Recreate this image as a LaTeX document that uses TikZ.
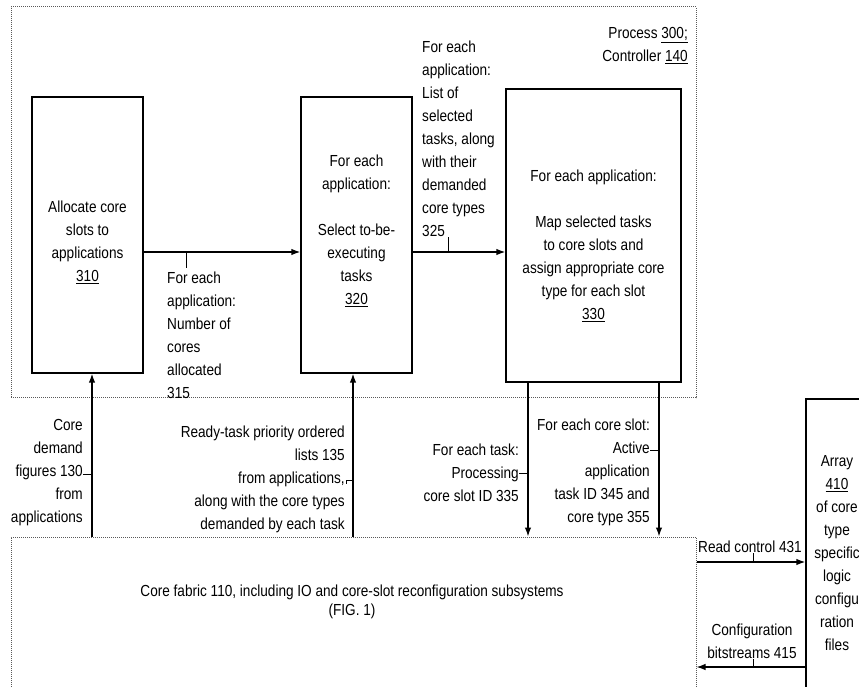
\documentclass[tikz,border=0pt]{standalone}
\usepackage{fontspec}
\setmainfont[FakeStretch=0.85]{Liberation Sans}
\usepackage{tikz}
\usetikzlibrary{positioning,arrows.meta,calc}

\begin{document}
\begin{tikzpicture}[
  x=1pt, y=1pt,
  every node/.style={font=\fontsize{16}{23}\selectfont},
  stepbox/.style={draw, line width=1.3pt, inner sep=0pt},
  steptext/.style={align=center, inner sep=0pt},
  grpbox/.style={draw=black!65, densely dotted, line width=1pt, inner sep=0pt},
  lbl/.style={align=left, inner sep=0pt},
  rlbl/.style={align=right, inner sep=0pt},
  arr/.style={-{Latex[length=9pt,width=6.5pt]}, line width=1.3pt},
  tick/.style={line width=0.8pt}
]
  \clip (0,0) rectangle (859,686);

  % --- Process 300 frame and its three steps ---
  \node[grpbox, minimum width=685, minimum height=391] (proc) at (353.5,483.5) {};
  \node[anchor=north east, rlbl] (proclbl) at (688,659)
    {Process \underline{300;}\\Controller \underline{140}};

  \node[stepbox, minimum width=111, minimum height=276] (alloc)  at (87.5,451)  {};
  \node[stepbox, minimum width=111, minimum height=276] (select) at (356.5,451) {};
  \node[stepbox, minimum width=175, minimum height=293] (map)    at (593.5,450.5) {};
  \node[steptext] (alloctxt)  at ([yshift=-7pt]alloc.center)
    {Allocate core\\slots to\\applications\\\underline{310}};
  \node[steptext] (selecttxt) at ([yshift=4pt]select.center)
    {For each\\application:\\[23pt]Select to-be-\\executing\\tasks\\\underline{320}};
  \node[steptext] (maptxt)    at ([yshift=-10pt]map.center)
    {For each application:\\[23pt]Map selected tasks\\to core slots and\\assign appropriate core\\type for each slot\\\underline{330}};

  % --- Core fabric and configuration file array ---
  \node[grpbox, minimum width=685, minimum height=189] (fabric) at (353.5,54.5) {};
  \node[align=center, inner sep=0pt, font=\fontsize{16}{19}\selectfont] (fabriclbl) at (352,84.5)
    {Core fabric 110, including IO and core-slot reconfiguration subsystems\\(FIG. 1)};
  \node[draw, line width=1.3pt, minimum width=74, minimum height=327, inner sep=0pt] (array) at (843,123.5) {};
  \node[align=center, inner sep=0pt] (arraylbl) at (837,132.5)
    {Array\\\underline{410}\\of core\\type\\specific\\logic\\configu\\ration\\files};

  % --- Arrows inside the process ---
  \draw[arr] ([yshift=-17pt]alloc.east)  -- ([yshift=-17pt]select.west);
  \draw[arr] ([yshift=-17pt]select.east) -- ([yshift=-16.5pt]map.west);

  \node[anchor=north west, lbl] (l315) at (167,414)
    {For each\\application:\\Number of\\cores\\allocated\\315};
  \draw[tick] ([xshift=19pt,yshift=4pt]l315.north west) -- ++(0,16);
  \node[anchor=north west, lbl] (l325) at (422,645)
    {For each\\application:\\List of\\selected\\tasks, along\\with their\\demanded\\core types\\325};
  \draw[tick] ([xshift=26pt]l325.south west) -- ++(0,-15);

  % --- Arrows between fabric and process ---
  \draw[arr] (fabric.north -| {$(alloc.south)+(4.5,0)$})  -- ([xshift=4.5pt]alloc.south);
  \draw[arr] (fabric.north -| {$(select.south)+(-3.5,0)$}) -- ([xshift=-3.5pt]select.south);
  \draw[arr] ([xshift=-65.5pt]map.south) -- (fabric.north -| {$(map.south)+(-65.5,0)$});
  \draw[arr] ([xshift=65.5pt]map.south)  -- (fabric.north -| {$(map.south)+(65.5,0)$});

  \node[anchor=north east, rlbl] (l130) at (83,267)
    {Core\\demand\\figures 130\\from\\applications};
  \draw[tick] ([yshift=-2pt]l130.east) -- ++(9,0);
  \node[anchor=north east, rlbl] (l135) at (345,260)
    {Ready-task priority ordered\\lists 135\\from applications,\\along with the core types\\demanded by each task};
  \draw[tick] ([yshift=-1pt]l135.east) ++(1,-3) -- ++(0,3) -- ++(7,0);
  \node[anchor=north east, rlbl] (l335) at (519,242)
    {For each task:\\Processing\\core slot ID 335};
  \draw[tick] (l335.east) -- ++(9,0);
  \node[anchor=north east, rlbl] (l345) at (650,267)
    {For each core slot:\\Active\\application\\task ID 345 and\\core type 355};
  \draw[tick] ([yshift=22pt]l345.east) -- ++(9,0);

  % --- Fabric <-> array ---
  \coordinate (rdctl) at (0,124);
  \coordinate (cfgbs) at (0,19);
  \draw[arr] (fabric.east |- rdctl) -- (array.west |- rdctl);
  \draw[arr] (array.west |- cfgbs) -- (fabric.east |- cfgbs);
  \node[anchor=north, inner sep=0pt] (l431) at (750,145) {Read control 431};
  \draw[tick] ([xshift=3pt]l431.south) -- ++(0,-9);
  \node[anchor=north, align=center, inner sep=0pt] (l415) at (752,62)
    {Configuration\\bitstreams 415};
  \draw[tick] ([xshift=1pt]l415.south) -- ++(0,-8);
\end{tikzpicture}
\end{document}
